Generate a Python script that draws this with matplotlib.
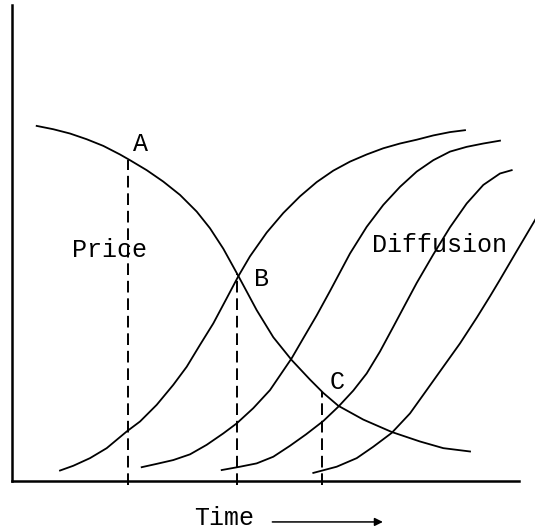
import matplotlib
matplotlib.use("Agg")
import matplotlib.pyplot as plt

# ---- data (time 0-100, level 0-100) ----
price_t = [4.87, 8.15, 11.44, 14.73, 18.01, 21.30, 23.27, 26.57, 29.84, 33.14, 36.43, 39.05,
           41.68, 43.65, 44.63, 46.40, 48.26, 51.54, 55.17, 58.78, 61.40, 64.36, 69.29, 74.89,
           80.47, 85.07, 90.34]
price_v = [74.6, 73.9, 73.0, 71.8, 70.4, 68.6, 67.4, 65.3, 62.9, 60.1, 56.6, 53.1,
           48.8, 45.0, 43.1, 39.6, 35.9, 30.2, 25.4, 21.3, 18.5, 15.8, 12.9, 10.3,
           8.3, 6.9, 6.2]

diff1_t = [9.47, 12.09, 15.38, 18.68, 22.62, 25.25, 28.54, 31.81, 34.46, 37.08, 39.70, 42.35,
           44.63, 46.94, 50.24, 53.51, 56.80, 60.10, 63.37, 66.67, 69.96, 73.23, 76.53,
           79.82, 83.10, 86.39, 89.35]
diff1_v = [2.2, 3.2, 4.8, 6.9, 10.4, 12.5, 16.0, 20.2, 24.0, 28.6, 33.1, 38.4,
           43.0, 47.2, 52.2, 56.3, 59.8, 62.8, 65.2, 67.1, 68.6, 69.9, 70.9,
           71.7, 72.6, 73.3, 73.7]

diff2_t = [25.58, 28.54, 31.81, 35.11, 38.40, 41.68, 44.32, 47.59, 50.89, 55.17, 57.46, 60.10,
           62.72, 66.67, 69.96, 73.23, 76.53, 79.82, 83.10, 86.39, 89.68, 92.96, 96.25]
diff2_v = [2.9, 3.6, 4.4, 5.6, 7.6, 10.0, 12.1, 15.3, 19.1, 25.8, 30.0, 34.8,
           39.9, 47.8, 53.4, 58.0, 61.8, 65.0, 67.4, 69.2, 70.2, 70.9, 71.5]

diff3_t = [41.36, 44.97, 48.26, 51.54, 54.83, 58.00, 61.40, 64.36, 67.32, 69.96, 72.58, 75.21,
           77.51, 79.82, 83.10, 86.39, 89.68, 92.96, 96.25, 98.56]
diff3_v = [2.3, 3.0, 3.7, 5.1, 7.4, 9.8, 12.6, 15.6, 19.0, 22.6, 27.2, 32.4,
           37.0, 41.6, 47.6, 53.3, 58.3, 62.2, 64.6, 65.3]

diff4_t = [59.43, 64.04, 67.99, 71.26, 74.89, 78.50, 81.79, 85.07, 88.36, 91.66, 94.28, 96.25,
           99.55, 102.82, 105.13]
diff4_v = [1.7, 3.0, 4.8, 7.2, 10.1, 14.2, 19.1, 24.0, 28.9, 34.3, 38.8, 42.3,
           48.3, 54.2, 58.4]

point_labels = ["A", "B", "C"]
point_t = [22.94, 44.44, 61.08]
point_v = [67.5, 43.4, 18.8]
label_t = [25.25, 49.25, 64.04]
label_v = [70.9, 42.4, 20.9]

FONT = "Liberation Mono"

fig = plt.figure(figsize=(5.35, 5.32), dpi=100)
ax = fig.add_axes([12 / 535, 51 / 532, 507 / 535, 476 / 532])
ax.set_xlim(0, 100)
ax.set_ylim(0, 100)
for s in ["top", "right"]:
    ax.spines[s].set_visible(False)
for s in ["left", "bottom"]:
    ax.spines[s].set_linewidth(1.8)
    ax.spines[s].set_color("black")
ax.set_xticks([])
ax.set_yticks([])

lw = 1.3
ax.plot(price_t, price_v, color="black", lw=lw, clip_on=False, solid_joinstyle="round")
for t, v in [(diff1_t, diff1_v), (diff2_t, diff2_v), (diff3_t, diff3_v), (diff4_t, diff4_v)]:
    ax.plot(t, v, color="black", lw=lw, clip_on=False, solid_joinstyle="round")

# dashed drop lines
for t, v in zip(point_t, point_v):
    ax.plot([t, t], [-0.9, v], color="black", lw=1.4, linestyle=(0, (6, 3)), clip_on=False)

# point labels
for lab, t, v in zip(point_labels, label_t, label_v):
    ax.text(t, v, lab, fontsize=18, family=FONT, ha="center", va="center")

ax.text(19.19, 48.5, "Price", fontsize=18, family=FONT, ha="center", va="center")
ax.text(84.28, 49.6, "Diffusion", fontsize=18, family=FONT, ha="center", va="center")
ax.text(41.8, -9.3, "Time", fontsize=18, family=FONT, ha="center", va="baseline", clip_on=False)
ax.annotate("", xy=(73.7, -8.6), xytext=(50.8, -8.6), xycoords="data",
            arrowprops=dict(arrowstyle="-|>", color="black", lw=1.1,
                            mutation_scale=12), annotation_clip=False)

fig.savefig("out.png", dpi=100)
